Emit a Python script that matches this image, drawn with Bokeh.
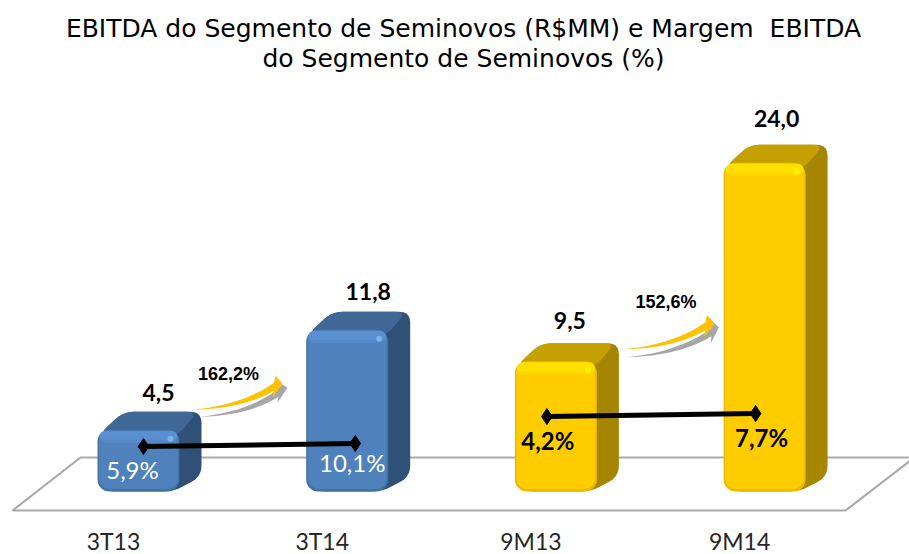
from bokeh.plotting import figure
from bokeh.models import Range1d, LinearAxis, FixedTicker, Label
from bokeh.core.properties import value
from bokeh.embed import file_html
from bokeh.resources import INLINE

# ---- data ----
categories = ["3T13", "3T14", "9M13", "9M14"]
ebitda = [4.5, 11.8, 9.5, 24.0]
ebitda_labels = ["4,5", "11,8", "9,5", "24,0"]
margin_labels = ["5,9%", "10,1%", "4,2%", "7,7%"]
margin_level = [3.28, 3.5, 5.47, 5.69]      # hidden secondary scale of the line
growth_labels = ["162,2%", "152,6%"]
title_lines = ["EBITDA do Segmento de Seminovos (R$MM) e Margem  EBITDA",
               "do Segmento de Seminovos (%)"]

# ---- geometry (pixels per data unit, styling offsets) ----
W, H = 909, 554
UX, UY = 208.7, 13.7          # px per category, px per R$MM
CX0, Y0 = 138.0, 491.0        # page position of first category / of zero
AXIS_H = 0                    # a fixed-location axis takes no panel height
FRAME_B = H - AXIS_H
BW = 82.0                     # bar front width, px
DX, DY = 22.0, 18.0           # depth of the bar
R = 12

x_start = (0 - CX0) / UX
x_end = (W - CX0) / UX
y_start = (Y0 - FRAME_B) / UY
y_end = Y0 / UY

p = figure(width=W, height=H, output_backend="svg", toolbar_location=None,
           x_range=Range1d(x_start, x_end), y_range=Range1d(y_start, y_end),
           min_border=0, min_border_left=0, min_border_right=0,
           min_border_top=0, min_border_bottom=0,
           x_axis_location=None, y_axis_location=None)
p.grid.visible = False
p.outline_line_color = None
p.background_fill_color = "white"

# category axis: labels sit left of the bars in the reference
SHIFT = 25.0
p.extra_x_ranges["cat"] = Range1d(x_start + SHIFT / UX, x_end + SHIFT / UX)
ax = LinearAxis(x_range_name="cat", ticker=FixedTicker(ticks=list(range(len(categories)))),
                major_label_overrides={i: c for i, c in enumerate(categories)})
ax.axis_line_color = None
ax.major_tick_line_color = None
ax.minor_tick_line_color = None
ax.major_tick_out = 0
ax.major_label_standoff = 6
ax.fixed_location = (Y0 - 520) / UY
ax.major_label_text_font = "Lato"
ax.major_label_text_font_size = "23px"
ax.major_label_text_color = "#262626"
p.add_layout(ax, "below")


def xd(i, px=0.0):
    return i + px / UX


def yd(v, px_up=0.0):
    return v + px_up / UY


def rounded(pts, r, n=5):
    """Round the corners of a polygon given in px."""
    out = []
    m = len(pts)
    for k in range(m):
        ax_, ay_ = pts[k - 1]
        bx, by = pts[k]
        cx, cy = pts[(k + 1) % m]
        d1 = ((ax_ - bx) ** 2 + (ay_ - by) ** 2) ** 0.5
        d2 = ((cx - bx) ** 2 + (cy - by) ** 2) ** 0.5
        r1 = min(r, d1 / 2) / d1
        r2 = min(r, d2 / 2) / d2
        p0 = (bx + (ax_ - bx) * r1, by + (ay_ - by) * r1)
        p2 = (bx + (cx - bx) * r2, by + (cy - by) * r2)
        for t in range(n + 1):
            t /= n
            out.append(((1 - t) ** 2 * p0[0] + 2 * t * (1 - t) * bx + t * t * p2[0],
                        (1 - t) ** 2 * p0[1] + 2 * t * (1 - t) * by + t * t * p2[1]))
    return out


# floor, anchored on first category / zero line (px offsets, up positive)
floor = [(-126, -19), (-58, 34), (776, 34), (707, -19)]
p.patch([xd(0, a) for a, b in floor], [yd(0, b) for a, b in floor],
        fill_color=None, line_color="#ABABAB", line_width=2.2)

palette = {
    0: dict(top="#3F6897", side="#2F5077", edge="#44739F", main="#4F81BD", hi="#5A90D2", spot="#7FB0E8"),
    1: dict(top="#C4A000", side="#A68600", edge="#E8BC00", main="#FFCC00", hi="#FFE000", spot="#FFF000"),
}
groups = [0, 0, 1, 1]

for i, (v, g) in enumerate(zip(ebitda, groups)):
    c = palette[g]
    h = v * UY
    L, Rg = -BW / 2, BW / 2
    # whole silhouette in the side colour
    sil = rounded([(L + 2, h - 4), (L + DX + 4, h + DY), (Rg + DX, h + DY), (Rg + DX, DY - 3),
                   (Rg - 6, 0), (L + 6, 0)], 11)
    p.patch([xd(i, a) for a, b in sil], [yd(0, b) for a, b in sil],
            fill_color=c["side"], line_color=None)
    # top face
    top = rounded([(L + 2, h - 4), (L + DX + 4, h + DY), (Rg + DX - 4, h + DY), (Rg - 2, h - 6)], 10)
    p.patch([xd(i, a) for a, b in top], [yd(0, b) for a, b in top],
            fill_color=c["top"], line_color=None)

xs = list(range(len(categories)))
for g in (0, 1):
    c = palette[g]
    idx = [i for i in xs if groups[i] == g]
    vals = [ebitda[i] for i in idx]
    p.vbar(x=idx, width=BW / UX, bottom=0, top=vals, fill_color=c["edge"], line_color=None,
           border_radius=R)
    p.vbar(x=idx, width=(BW - 3) / UX, bottom=2.5 / UY, top=[yd(t, -1) for t in vals],
           fill_color=c["main"], line_color=None, border_radius=R - 1)
    p.vbar(x=idx, width=(BW - 4) / UX, bottom=[yd(t, -13) for t in vals], top=[yd(t, -1) for t in vals],
           fill_color=c["hi"], line_color=None, border_radius=R - 2)
    p.vbar(x=idx, width=(BW - 5) / UX, bottom=[yd(t, -17) for t in vals], top=[yd(t, -10) for t in vals],
           fill_color=c["main"], fill_alpha=0.5, line_color=None)
    p.scatter([xd(i, BW / 2 - 9) for i in idx], [yd(t, -9) for t in vals], size=6,
              fill_color=c["spot"], line_color=None)

# growth arrows: start offset from the left bar's top centre
def arrow(i, sx, sy, tip, head_top, head_bot, color):
    v = ebitda[i]
    # all given in px relative to the start, y up
    nx, ny = (head_top[0] + head_bot[0]) / 2, (head_top[1] + head_bot[1]) / 2
    ctrl = (nx * 0.62, ny * 0.14)
    upper, lower = [], []
    thick = 8.0
    for k in range(13):
        t = k / 12
        x = 2 * t * (1 - t) * ctrl[0] + t * t * nx
        y = 2 * t * (1 - t) * ctrl[1] + t * t * ny
        upper.append((x, y + thick * t / 2))
        lower.append((x, y - thick * t / 2))
    pts = upper + [head_top, tip, head_bot] + lower[::-1]
    p.patch([xd(i, sx + a) for a, b in pts], [yd(v, sy + b) for a, b in pts],
            fill_color=color, line_color=None)


arrow(0, 62, 13, (87, 29), (79, 34), (77, 14), "#A6A6A6")
arrow(0, 54, 20, (90, 26), (83, 34), (80, 12), "#FFC000")
arrow(2, 71, 4, (92, 30), (85, 36), (84, 14), "#A6A6A6")
arrow(2, 68, 12, (91, 26), (83, 34), (80, 12), "#FFC000")

# margin line segments on a hidden scale
line_dx = [5, 8, -9, -9]
for a, b in ((0, 1), (2, 3)):
    lx = [xd(a, line_dx[a]), xd(b, line_dx[b])]
    ly = [margin_level[a], margin_level[b]]
    p.line(lx, ly, line_color="black", line_width=5)
    p.scatter(lx, ly, marker="diamond", size=16, fill_color="black", line_color="black")

# value labels
val_dx = [20, 21, 14, 12]
val_dy = [37, 38, 41, 44]
p.text([xd(i, val_dx[i]) for i in xs], [yd(ebitda[i], val_dy[i]) for i in xs], text=ebitda_labels,
       text_font=value("Lato"), text_font_size="23px", text_font_style="bold", text_color="black",
       text_align="center", text_baseline="middle")

# margin labels
mar_dx = [-6, 5, -8, -3]
mar_y = [22, 29, 51, 54]
mar_col = ["white", "white", "black", "black"]
for i in xs:
    p.text([xd(i, mar_dx[i])], [yd(0, mar_y[i])], text=[margin_labels[i]],
           text_font=value("Lato"), text_font_size="24px", text_color=mar_col[i],
           text_font_style="bold" if mar_col[i] == "black" else "normal",
           text_align="center", text_baseline="middle")

# growth labels
p.text([xd(0, 90), xd(2, 110)], [yd(ebitda[0], 56), yd(ebitda[2], 59)], text=growth_labels,
       text_font=value("Liberation Sans"), text_font_size="18px", text_font_style="bold",
       text_color="black", text_align="center", text_baseline="middle")

# title, placed through the data scales (no-break space keeps the double gap)
for line, py in zip(title_lines, (28, 58)):
    p.add_layout(Label(x=(463 - CX0) / UX, y=(Y0 - py) / UY, text=line.replace("  ", " \u00a0"),
                       text_font="DejaVu Sans", text_font_size="25px", text_font_style="normal",
                       text_color="black", text_align="center", text_baseline="middle"))

open("out.html", "w").write(file_html(p, INLINE))
